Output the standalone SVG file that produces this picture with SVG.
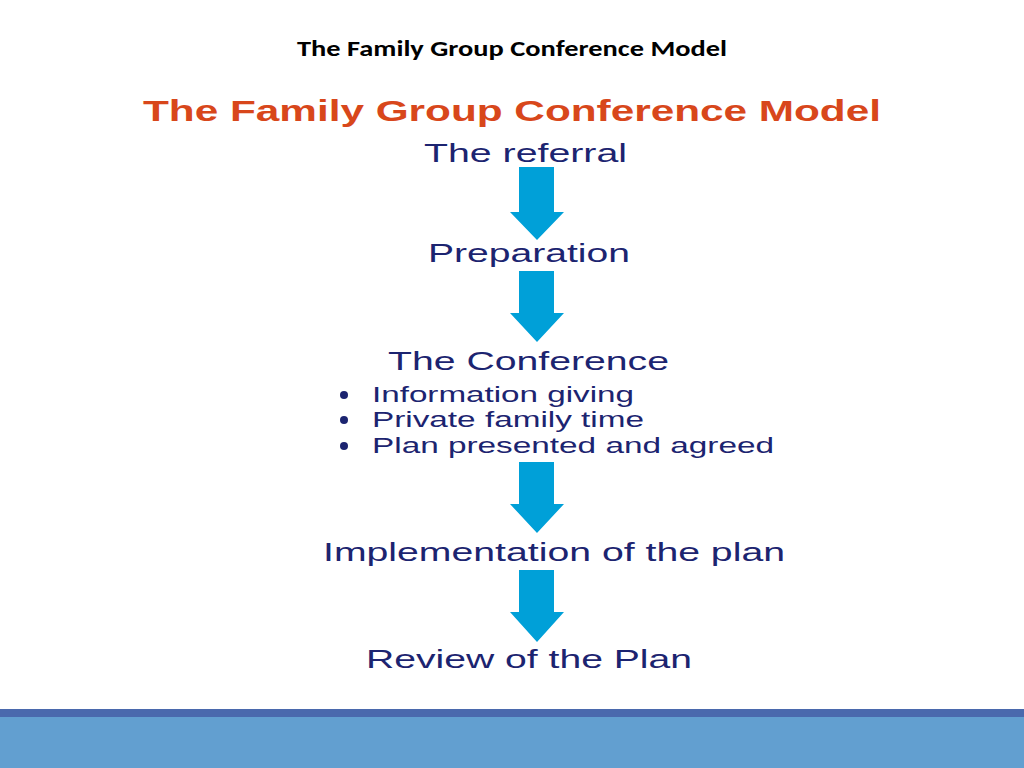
<svg xmlns="http://www.w3.org/2000/svg" width="1024" height="768" viewBox="0 0 1024 768">
<defs><style>
.t{font-family:"Liberation Sans",Arial,sans-serif;fill:#1c2470}
.a{fill:#00a0d8}
</style></defs>
<rect width="1024" height="768" fill="#fff"/>
<text x="512" y="56" text-anchor="middle" font-family="Carlito,'Liberation Sans',sans-serif" font-weight="bold" font-size="22" textLength="430" lengthAdjust="spacingAndGlyphs">The Family Group Conference Model</text>
<text x="143" y="121" font-family="'Liberation Sans',Arial,sans-serif" font-weight="bold" font-size="29" fill="#d8471b" textLength="738" lengthAdjust="spacingAndGlyphs">The Family Group Conference Model</text>
<g id="n1"><text class="t" x="424" y="162" font-size="26" textLength="203" lengthAdjust="spacingAndGlyphs">The referral</text></g>
<g id="n2"><text class="t" x="428" y="262" font-size="26" textLength="202" lengthAdjust="spacingAndGlyphs">Preparation</text></g>
<g id="n3">
<text class="t" x="388" y="370" font-size="26" textLength="281" lengthAdjust="spacingAndGlyphs">The Conference</text>
<g font-size="22">
<circle cx="344" cy="395" r="4" fill="#1c2470"/><text class="t" x="372" y="402" textLength="262" lengthAdjust="spacingAndGlyphs">Information giving</text>
<circle cx="344" cy="420" r="4" fill="#1c2470"/><text class="t" x="372" y="427" textLength="272" lengthAdjust="spacingAndGlyphs">Private family time</text>
<circle cx="344" cy="446" r="4" fill="#1c2470"/><text class="t" x="372" y="453" textLength="402" lengthAdjust="spacingAndGlyphs">Plan presented and agreed</text>
</g></g>
<g id="n4"><text class="t" x="323" y="561" font-size="26" textLength="462" lengthAdjust="spacingAndGlyphs">Implementation of the plan</text></g>
<g id="n5"><text class="t" x="366" y="668" font-size="26" textLength="326" lengthAdjust="spacingAndGlyphs">Review of the Plan</text></g>
<g id="connectors">
<polygon class="a" points="519,167 554,167 554,212 564,212 537,240 510,212 519,212"/>
<polygon class="a" points="519,271 554,271 554,313 564,313 537,342 510,313 519,313"/>
<polygon class="a" points="519,462 554,462 554,504 564,504 537,533 510,504 519,504"/>
<polygon class="a" points="519,570 554,570 554,612 564,612 537,642 510,612 519,612"/>
</g>
<rect x="0" y="709" width="1024" height="8" fill="#4a69ad"/>
<rect x="0" y="717" width="1024" height="51" fill="#629fd0"/>
</svg>
